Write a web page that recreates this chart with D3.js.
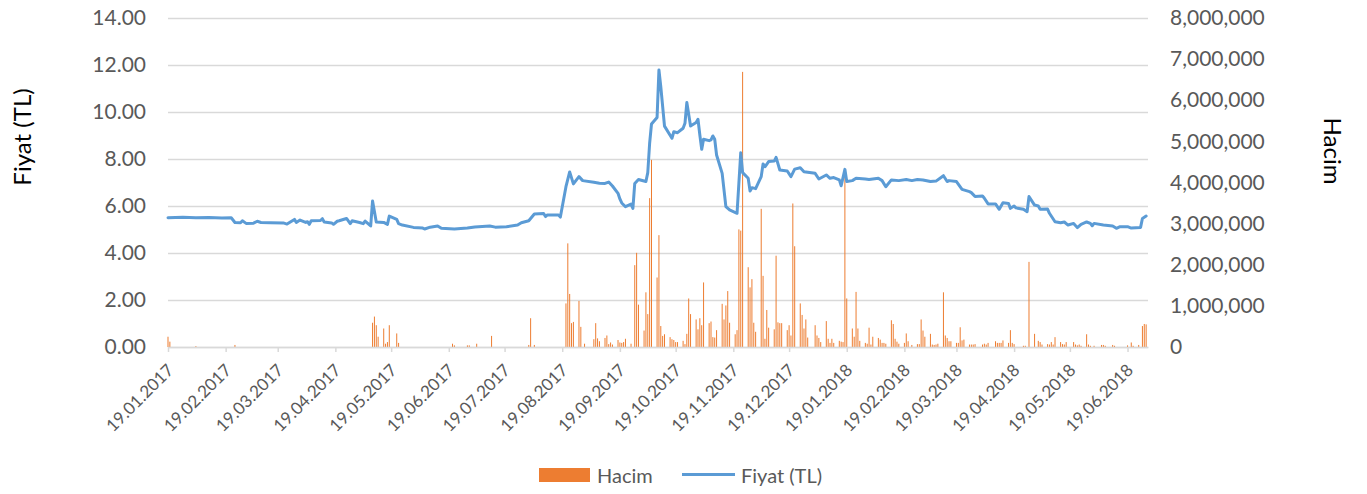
<!DOCTYPE html>
<html>
<head>
<meta charset="utf-8">
<script src="https://cdn.jsdelivr.net/npm/d3@7"></script>
<style>
    body { margin: 0; background: #fff; }
    svg text { font-family: Lato, "Open Sans", sans-serif; }
</style>
</head>
<body>
<svg id="chart" width="1367" height="494"></svg>
<script>
let width = 1367, height = 494;

// price (TL)
let priceDates = [
    "19.01.2017", "27.01.2017", "03.02.2017", "10.02.2017", "17.02.2017", "22.02.2017", "24.02.2017", "27.02.2017",
    "28.02.2017", "02.03.2017", "06.03.2017", "08.03.2017", "10.03.2017", "15.03.2017", "22.03.2017", "24.03.2017",
    "28.03.2017", "29.03.2017", "31.03.2017", "03.04.2017", "04.04.2017", "05.04.2017", "06.04.2017", "11.04.2017",
    "12.04.2017", "13.04.2017", "17.04.2017", "18.04.2017", "20.04.2017", "21.04.2017", "25.04.2017", "27.04.2017",
    "28.04.2017", "02.05.2017", "04.05.2017", "05.05.2017", "08.05.2017", "09.05.2017", "11.05.2017", "15.05.2017",
    "17.05.2017", "18.05.2017", "22.05.2017", "23.05.2017", "25.05.2017", "31.05.2017", "05.06.2017", "06.06.2017",
    "09.06.2017", "13.06.2017", "15.06.2017", "22.06.2017", "29.06.2017", "03.07.2017", "11.07.2017", "14.07.2017",
    "20.07.2017", "26.07.2017", "28.07.2017", "01.08.2017", "04.08.2017", "09.08.2017", "10.08.2017", "11.08.2017",
    "17.08.2017", "18.08.2017", "21.08.2017", "23.08.2017", "25.08.2017", "28.08.2017", "30.08.2017", "05.09.2017",
    "08.09.2017", "11.09.2017", "13.09.2017", "15.09.2017", "18.09.2017", "19.09.2017", "20.09.2017", "22.09.2017",
    "25.09.2017", "26.09.2017", "27.09.2017", "29.09.2017", "03.10.2017", "04.10.2017", "05.10.2017", "06.10.2017",
    "09.10.2017", "10.10.2017", "11.10.2017", "13.10.2017", "17.10.2017", "18.10.2017", "20.10.2017", "23.10.2017",
    "24.10.2017", "25.10.2017", "27.10.2017", "30.10.2017", "31.10.2017", "01.11.2017", "02.11.2017", "03.11.2017",
    "06.11.2017", "07.11.2017", "08.11.2017", "09.11.2017", "10.11.2017", "13.11.2017", "15.11.2017", "17.11.2017",
    "21.11.2017", "23.11.2017", "24.11.2017", "27.11.2017", "28.11.2017", "29.11.2017", "01.12.2017", "04.12.2017",
    "05.12.2017", "06.12.2017", "08.12.2017", "11.12.2017", "12.12.2017", "14.12.2017", "18.12.2017", "20.12.2017",
    "22.12.2017", "25.12.2017", "27.12.2017", "02.01.2018", "04.01.2018", "08.01.2018", "10.01.2018", "12.01.2018",
    "15.01.2018", "16.01.2018", "18.01.2018", "19.01.2018", "22.01.2018", "24.01.2018", "29.01.2018", "31.01.2018",
    "05.02.2018", "07.02.2018", "09.02.2018", "12.02.2018", "16.02.2018", "20.02.2018", "23.02.2018", "26.02.2018",
    "01.03.2018", "05.03.2018", "08.03.2018", "12.03.2018", "14.03.2018", "15.03.2018", "19.03.2018", "22.03.2018",
    "26.03.2018", "27.03.2018", "29.03.2018", "02.04.2018", "03.04.2018", "05.04.2018", "09.04.2018", "11.04.2018",
    "13.04.2018", "16.04.2018", "17.04.2018", "19.04.2018", "20.04.2018", "24.04.2018", "26.04.2018", "27.04.2018",
    "30.04.2018", "02.05.2018", "03.05.2018", "07.05.2018", "08.05.2018", "11.05.2018", "14.05.2018", "16.05.2018",
    "18.05.2018", "21.05.2018", "23.05.2018", "25.05.2018", "28.05.2018", "30.05.2018", "31.05.2018", "01.06.2018",
    "06.06.2018", "11.06.2018", "13.06.2018", "15.06.2018", "19.06.2018", "21.06.2018", "26.06.2018", "27.06.2018",
    "29.06.2018"
];
let prices = [
    5.50, 5.52, 5.50, 5.51, 5.49, 5.50, 5.30, 5.29,
    5.37, 5.26, 5.27, 5.35, 5.30, 5.29, 5.28, 5.23,
    5.43, 5.30, 5.40, 5.30, 5.33, 5.22, 5.37, 5.38,
    5.46, 5.32, 5.28, 5.22, 5.35, 5.37, 5.47, 5.25,
    5.37, 5.30, 5.25, 5.36, 5.15, 6.21, 5.32, 5.30,
    5.22, 5.57, 5.43, 5.25, 5.19, 5.09, 5.06, 5.02,
    5.10, 5.15, 5.05, 5.02, 5.06, 5.11, 5.15, 5.10,
    5.12, 5.19, 5.29, 5.37, 5.66, 5.68, 5.55, 5.62,
    5.62, 5.53, 6.82, 7.45, 6.94, 7.25, 7.08, 7.01,
    6.97, 6.96, 7.02, 6.85, 6.54, 6.30, 6.13, 5.97,
    6.08, 5.90, 6.96, 7.13, 7.04, 7.42, 8.67, 9.49,
    9.77, 11.79, 11.08, 9.40, 8.88, 9.16, 9.12, 9.31,
    9.52, 10.40, 9.40, 9.55, 9.69, 9.02, 8.41, 8.84,
    8.78, 8.81, 8.98, 8.84, 8.17, 7.39, 5.97, 5.83,
    5.69, 8.27, 7.42, 7.18, 6.64, 6.78, 6.74, 7.25,
    7.79, 7.67, 7.89, 7.91, 8.07, 7.53, 7.49, 7.25,
    7.57, 7.63, 7.46, 7.39, 7.15, 7.32, 7.18, 7.21,
    7.11, 6.86, 7.56, 7.04, 7.08, 7.18, 7.15, 7.13,
    7.18, 7.08, 6.82, 7.11, 7.08, 7.13, 7.08, 7.13,
    7.11, 7.04, 7.06, 7.29, 7.04, 7.08, 7.04, 6.71,
    6.61, 6.57, 6.40, 6.43, 6.33, 6.09, 6.09, 5.86,
    6.14, 6.11, 5.90, 6.00, 5.92, 5.86, 5.76, 6.40,
    6.04, 6.00, 5.86, 5.87, 5.69, 5.33, 5.29, 5.32,
    5.19, 5.26, 5.08, 5.22, 5.32, 5.26, 5.16, 5.26,
    5.19, 5.15, 5.05, 5.12, 5.12, 5.06, 5.09, 5.47,
    5.57
];

// daily volume (Hacim), only days with a visible bar
let volumeDates = [
    "19.01.2017", "20.01.2017", "03.02.2017", "24.02.2017", "09.05.2017", "10.05.2017", "11.05.2017", "12.05.2017",
    "15.05.2017", "16.05.2017", "17.05.2017", "18.05.2017", "22.05.2017", "23.05.2017", "21.06.2017", "22.06.2017",
    "29.06.2017", "30.06.2017", "04.07.2017", "12.07.2017", "01.08.2017", "02.08.2017", "04.08.2017", "21.08.2017",
    "22.08.2017", "23.08.2017", "24.08.2017", "25.08.2017", "28.08.2017", "29.08.2017", "31.08.2017", "05.09.2017",
    "06.09.2017", "07.09.2017", "08.09.2017", "11.09.2017", "12.09.2017", "13.09.2017", "14.09.2017", "15.09.2017",
    "18.09.2017", "19.09.2017", "20.09.2017", "21.09.2017", "22.09.2017", "25.09.2017", "27.09.2017", "28.09.2017",
    "29.09.2017", "02.10.2017", "03.10.2017", "04.10.2017", "05.10.2017", "06.10.2017", "09.10.2017", "10.10.2017",
    "11.10.2017", "12.10.2017", "13.10.2017", "16.10.2017", "17.10.2017", "18.10.2017", "19.10.2017", "20.10.2017",
    "23.10.2017", "24.10.2017", "25.10.2017", "26.10.2017", "27.10.2017", "30.10.2017", "31.10.2017", "01.11.2017",
    "02.11.2017", "03.11.2017", "06.11.2017", "07.11.2017", "08.11.2017", "09.11.2017", "10.11.2017", "13.11.2017",
    "14.11.2017", "15.11.2017", "16.11.2017", "17.11.2017", "20.11.2017", "21.11.2017", "22.11.2017", "23.11.2017",
    "24.11.2017", "27.11.2017", "28.11.2017", "29.11.2017", "30.11.2017", "01.12.2017", "04.12.2017", "05.12.2017",
    "06.12.2017", "07.12.2017", "08.12.2017", "11.12.2017", "12.12.2017", "13.12.2017", "14.12.2017", "15.12.2017",
    "18.12.2017", "19.12.2017", "20.12.2017", "21.12.2017", "22.12.2017", "25.12.2017", "26.12.2017", "27.12.2017",
    "28.12.2017", "29.12.2017", "02.01.2018", "03.01.2018", "04.01.2018", "05.01.2018", "08.01.2018", "09.01.2018",
    "10.01.2018", "11.01.2018", "12.01.2018", "15.01.2018", "16.01.2018", "17.01.2018", "18.01.2018", "19.01.2018",
    "22.01.2018", "23.01.2018", "24.01.2018", "25.01.2018", "26.01.2018", "29.01.2018", "30.01.2018", "31.01.2018",
    "01.02.2018", "02.02.2018", "05.02.2018", "06.02.2018", "07.02.2018", "08.02.2018", "09.02.2018", "12.02.2018",
    "13.02.2018", "14.02.2018", "15.02.2018", "16.02.2018", "19.02.2018", "20.02.2018", "21.02.2018", "23.02.2018",
    "26.02.2018", "27.02.2018", "28.02.2018", "01.03.2018", "02.03.2018", "05.03.2018", "06.03.2018", "07.03.2018",
    "08.03.2018", "09.03.2018", "12.03.2018", "13.03.2018", "14.03.2018", "15.03.2018", "16.03.2018", "19.03.2018",
    "20.03.2018", "21.03.2018", "22.03.2018", "23.03.2018", "26.03.2018", "27.03.2018", "28.03.2018", "29.03.2018",
    "02.04.2018", "03.04.2018", "04.04.2018", "05.04.2018", "09.04.2018", "10.04.2018", "11.04.2018", "12.04.2018",
    "13.04.2018", "16.04.2018", "17.04.2018", "18.04.2018", "19.04.2018", "24.04.2018", "25.04.2018", "27.04.2018",
    "30.04.2018", "02.05.2018", "03.05.2018", "04.05.2018", "07.05.2018", "08.05.2018", "09.05.2018", "10.05.2018",
    "11.05.2018", "14.05.2018", "15.05.2018", "16.05.2018", "17.05.2018", "21.05.2018", "22.05.2018", "23.05.2018",
    "24.05.2018", "25.05.2018", "28.05.2018", "29.05.2018", "30.05.2018", "01.06.2018", "05.06.2018", "06.06.2018",
    "07.06.2018", "11.06.2018", "12.06.2018", "19.06.2018", "21.06.2018", "22.06.2018", "25.06.2018", "27.06.2018",
    "28.06.2018", "29.06.2018"
];
let volumes = [
    250000, 130000, 20000, 50000, 590000, 740000, 530000, 250000,
    450000, 80000, 120000, 530000, 330000, 100000, 80000, 40000,
    40000, 40000, 80000, 270000, 50000, 700000, 50000, 1060000,
    2520000, 1290000, 580000, 610000, 1120000, 490000, 80000, 190000,
    580000, 210000, 140000, 220000, 280000, 70000, 110000, 60000,
    170000, 110000, 100000, 120000, 200000, 80000, 1990000, 2290000,
    1030000, 400000, 1330000, 800000, 3620000, 4550000, 1690000, 2720000,
    510000, 270000, 310000, 240000, 190000, 170000, 120000, 120000,
    150000, 70000, 320000, 1180000, 800000, 670000, 430000, 700000,
    530000, 1570000, 580000, 620000, 240000, 230000, 410000, 1050000,
    670000, 1010000, 1360000, 590000, 310000, 410000, 2860000, 2830000,
    6690000, 1940000, 1450000, 1650000, 590000, 370000, 3360000, 1730000,
    200000, 900000, 470000, 430000, 2220000, 600000, 580000, 580000,
    410000, 530000, 280000, 3490000, 2450000, 1060000, 780000, 450000,
    670000, 230000, 530000, 280000, 220000, 120000, 630000, 200000,
    100000, 200000, 100000, 150000, 130000, 120000, 4200000, 1180000,
    450000, 250000, 1340000, 450000, 150000, 100000, 80000, 470000,
    60000, 250000, 220000, 180000, 100000, 100000, 80000, 650000,
    560000, 200000, 130000, 80000, 100000, 330000, 140000, 50000,
    70000, 70000, 670000, 400000, 250000, 320000, 60000, 50000,
    60000, 80000, 1330000, 280000, 220000, 140000, 140000, 100000,
    100000, 480000, 160000, 180000, 60000, 60000, 60000, 70000,
    60000, 80000, 60000, 100000, 140000, 100000, 100000, 100000,
    160000, 100000, 410000, 100000, 70000, 30000, 30000, 2070000,
    320000, 150000, 120000, 60000, 70000, 60000, 120000, 60000,
    240000, 120000, 70000, 60000, 120000, 120000, 60000, 40000,
    60000, 30000, 310000, 60000, 30000, 30000, 50000, 50000,
    30000, 50000, 30000, 40000, 110000, 30000, 50000, 510000,
    560000, 550000
];

let tickDates = [
    "19.01.2017", "19.02.2017", "19.03.2017", "19.04.2017", "19.05.2017", "19.06.2017",
    "19.07.2017", "19.08.2017", "19.09.2017", "19.10.2017", "19.11.2017", "19.12.2017",
    "19.01.2018", "19.02.2018", "19.03.2018", "19.04.2018", "19.05.2018", "19.06.2018"
];
let priceTicks = [0, 2, 4, 6, 8, 10, 12, 14];
let volumeTicks = [0, 1000000, 2000000, 3000000, 4000000, 5000000, 6000000, 7000000, 8000000];

let plotLeft = 168, plotRight = 1148, plotTop = 18, plotBottom = 347;
let parse = d3.timeParse("%d.%m.%Y");

let priceData = priceDates.map((d, i) => ({date: parse(d), value: prices[i]}));
let volumeData = volumeDates.map((d, i) => ({date: parse(d), value: volumes[i]}));

let x = d3.scaleTime()
    .domain([parse("19.01.2017"), parse("30.06.2018")])
    .range([plotLeft, plotRight]);
let yPrice = d3.scaleLinear().domain([0, 14]).range([plotBottom, plotTop]);
let yVolume = d3.scaleLinear().domain([0, 8000000]).range([plotBottom, plotTop]);

let svg = d3.select('#chart');

// left axis + gridlines
let leftAxis = svg.append('g')
    .attr('transform', 'translate(' + plotLeft + ',0)')
    .call(d3.axisLeft(yPrice)
        .tickValues(priceTicks)
        .tickSize(-(plotRight - plotLeft))
        .tickPadding(22)
        .tickFormat(d3.format(".2f")));
leftAxis.select('.domain').remove();
leftAxis.selectAll('line').attr('stroke', '#d9d9d9').attr('stroke-width', 1.5);
leftAxis.selectAll('text').attr('fill', '#595959').style('font-size', '21px');

// right axis
let rightAxis = svg.append('g')
    .attr('transform', 'translate(' + plotRight + ',0)')
    .call(d3.axisRight(yVolume)
        .tickValues(volumeTicks)
        .tickSize(0)
        .tickPadding(22)
        .tickFormat(d3.format(",")));
rightAxis.select('.domain').remove();
rightAxis.selectAll('text').attr('fill', '#595959').style('font-size', '21px');

// volume bars
svg.append('g')
    .selectAll('rect')
    .data(volumeData)
    .enter().append('rect')
    .attr('x', (d) => x(d.date) - 0.5)
    .attr('width', 1)
    .attr('y', (d) => yVolume(d.value))
    .attr('height', (d) => plotBottom - yVolume(d.value))
    .attr('fill', '#ED7D31');

// bottom axis
let bottomAxis = svg.append('g')
    .attr('transform', 'translate(0,' + plotBottom + ')')
    .call(d3.axisBottom(x)
        .tickValues(tickDates.map(parse))
        .tickSize(5)
        .tickSizeOuter(0)
        .tickFormat(d3.timeFormat("%d.%m.%Y")));
bottomAxis.select('.domain').attr('stroke', '#d9d9d9').attr('stroke-width', 1.5);
bottomAxis.selectAll('line').attr('stroke', '#d9d9d9').attr('stroke-width', 1.5);
bottomAxis.selectAll('text')
    .attr('x', 0).attr('y', 0).attr('dy', '0.35em')
    .attr('text-anchor', 'end')
    .attr('transform', 'translate(2,20) rotate(-45)')
    .attr('fill', '#595959')
    .style('font-size', '17px');

// price line
svg.append('path')
    .datum(priceData)
    .attr('fill', 'none')
    .attr('stroke', '#5B9BD5')
    .attr('stroke-width', 3)
    .attr('stroke-linejoin', 'round')
    .attr('stroke-linecap', 'round')
    .attr('d', d3.line().x((d) => x(d.date)).y((d) => yPrice(d.value)));

// axis titles
svg.append('text')
    .attr('transform', 'translate(21,137) rotate(-90)')
    .attr('text-anchor', 'middle')
    .attr('dominant-baseline', 'central')
    .style('font-size', '24px')
    .text('Fiyat (TL)');

svg.append('text')
    .attr('transform', 'translate(1333,151) rotate(90)')
    .attr('text-anchor', 'middle')
    .attr('dominant-baseline', 'central')
    .style('font-size', '24px')
    .text('Hacim');

// legend
let legend = svg.append('g');
legend.append('rect')
    .attr('x', 539).attr('y', 468).attr('width', 51).attr('height', 14)
    .attr('fill', '#ED7D31');
legend.append('text')
    .attr('x', 597).attr('y', 475).attr('dominant-baseline', 'central')
    .attr('fill', '#595959').style('font-size', '20px')
    .text('Hacim');
legend.append('line')
    .attr('x1', 682).attr('x2', 735).attr('y1', 474.5).attr('y2', 474.5)
    .attr('stroke', '#5B9BD5').attr('stroke-width', 3);
legend.append('text')
    .attr('x', 741).attr('y', 475).attr('dominant-baseline', 'central')
    .attr('fill', '#595959').style('font-size', '20px')
    .text('Fiyat (TL)');
</script>
</body>
</html>
